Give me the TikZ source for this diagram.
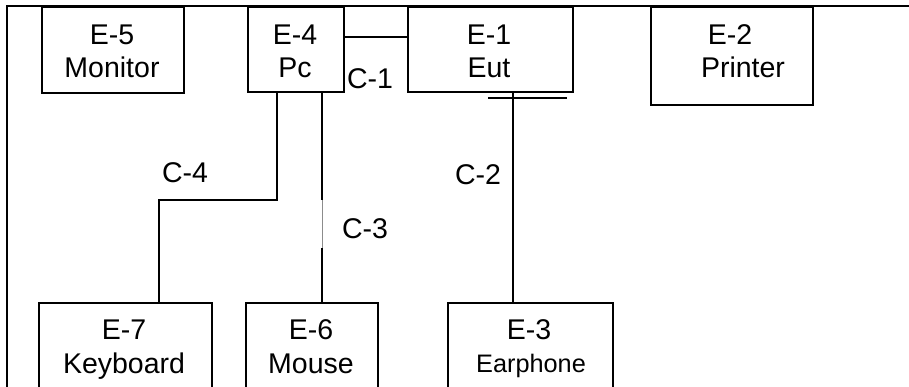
\documentclass[tikz,border=0pt]{standalone}
\usepackage{fontspec}
\setmainfont{Liberation Sans}
\begin{document}
\begin{tikzpicture}[x=1pt,y=-1pt,
  box/.style={draw=black, line width=1.7pt, rectangle, inner sep=0pt, anchor=north west},
  lbl/.style={inner sep=0pt, anchor=base, font=\fontsize{28.5}{34}\selectfont},
  slbl/.style={inner sep=0pt, anchor=base, font=\fontsize{25.3}{30}\selectfont},
  wire/.style={draw=black, line width=1.7pt},
  thinwire/.style={draw=black!45, line width=0.5pt}]
\useasboundingbox (0,0) rectangle (909,387);
\clip (0,0) rectangle (909,387);
% outer frame
\draw[wire] (7,400) -- (7,6) -- (915,6);
% boxes
\node[box, minimum width=142pt, minimum height=86pt] (e5) at (41,6) {};
\node[box, minimum width=96pt, minimum height=85pt] (e4) at (247,6) {};
\node[box, minimum width=165pt, minimum height=85pt] (e1) at (407,6) {};
\node[box, minimum width=162pt, minimum height=98pt] (e2) at (650,6) {};
\node[box, minimum width=173pt, minimum height=120pt] (e7) at (38,302) {};
\node[box, minimum width=132pt, minimum height=120pt] (e6) at (245,302) {};
\node[box, minimum width=165pt, minimum height=120pt] (e3) at (447,302) {};
% texts
\node[lbl] (e5a) at (112,45) {E-5};
\node[lbl] (e5b) at (112,78) {Monitor};
\node[lbl] (e4a) at (295,45) {E-4};
\node[lbl] (e4b) at (295,78) {Pc};
\node[lbl] (e1a) at (489,45) {E-1};
\node[lbl] (e1b) at (489,78) {Eut};
\node[lbl] (e2a) at (730,45) {E-2};
\node[lbl] (e2b) at (743,78) {Printer};
\node[lbl] (e7a) at (124,339) {E-7};
\node[lbl] (e7b) at (124,373) {Keyboard};
\node[lbl] (e6a) at (311,339) {E-6};
\node[lbl] (e6b) at (311,373) {Mouse};
\node[lbl] (e3a) at (529,339) {E-3};
\node[slbl] (e3b) at (531,372) {Earphone};
% cable labels
\node[lbl] (c1) at (370,89) {C-1};
\node[lbl] (c2) at (478,185) {C-2};
\node[lbl] (c3) at (365,238) {C-3};
\node[lbl] (c4) at (185,183) {C-4};
% connectors
\draw[wire] (e4.east |- 0,37) -- (e1.west |- 0,37);
\draw[wire] (513,0 |- e1.south) -- (513,0 |- e3.north);
\draw[wire] (488,98) -- (567,98);
\coordinate (k1) at (277,200);
\coordinate (k2) at (159,200);
\draw[wire] (277,0 |- e4.south) -- (k1) -- (k2) -- (159,0 |- e7.north);
\coordinate (m1) at (322,200);
\coordinate (m2) at (322,248);
\draw[wire] (322,0 |- e4.south) -- (m1);
\draw[thinwire] (m1) -- (m2);
\draw[wire] (m2) -- (322,0 |- e6.north);
\end{tikzpicture}
\end{document}
